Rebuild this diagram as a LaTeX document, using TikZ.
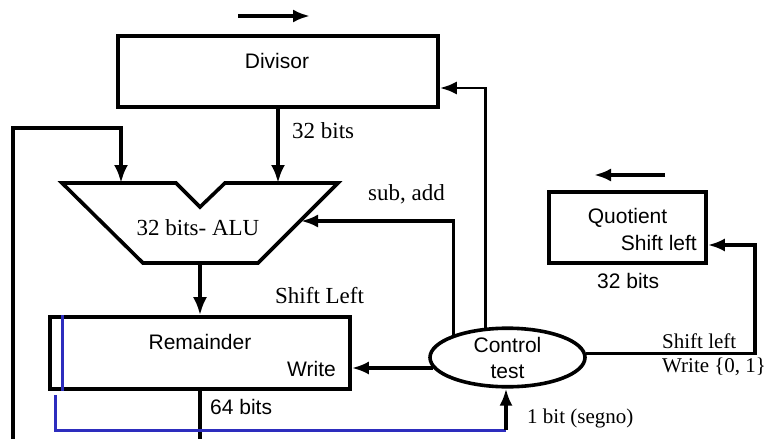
\documentclass[tikz,border=0pt]{standalone}
\usepackage{fontspec}
\setmainfont{Liberation Serif}
\newfontfamily\hvfont{Liberation Sans}
\usetikzlibrary{arrows.meta,shapes.geometric}
\definecolor{signblue}{RGB}{45,45,190}

\begin{document}
\begin{tikzpicture}[x=1pt, y=-1pt,
		reg/.style={draw, line width=3.6pt, inner sep=0pt},
		bus/.style={line width=4.6pt, -{Latex[length=18pt,width=14pt]}},
		sig/.style={line width=3.4pt, -{Latex[length=17pt,width=13pt]}},
		lbl/.style={anchor=base, inner sep=0pt, font=\fontsize{21}{25}\selectfont},
		albl/.style={anchor=base, inner sep=0pt, font=\fontsize{23}{27}\selectfont},
		hlbl/.style={anchor=base, inner sep=0pt, font=\hvfont\fontsize{21}{25}\selectfont}]
		\useasboundingbox (0,0) rectangle (766,439);
		\node[reg, minimum width=320pt, minimum height=71pt] (divisor) at (278, 71.5) {};
		\node[hlbl] (divisorlbl) at (277, 68) {Divisor};
		\node[reg, minimum width=300pt, minimum height=72pt] (rem) at (200, 353) {};
		\node[hlbl] (remlbl) at (200, 349) {Remainder};
		\node[hlbl, anchor=base east] (remwrite) at (336, 376) {Write};
		\node[reg, minimum width=157pt, minimum height=71pt] (quot) at (627.5, 227.5) {};
		\node[hlbl] (quotlbl) at (627.5, 223) {Quotient};
		\node[hlbl, anchor=base east] (quotshift) at (697, 250) {Shift left};
		\node[hlbl, anchor=base west] (quotbits) at (597, 288) {32 bits};
		\node[reg, ellipse, minimum width=155pt, minimum height=55pt, align=center,
			font=\hvfont\fontsize{21}{26}\selectfont] (ctrl) at (507.5, 357.5) {Control\\test};
		% ALU
		\draw[line width=3.6pt] (62,183) -- (176,183) -- (200,207) -- (225,183) -- (338,183)
			-- (258,263) -- (143,263) -- cycle;
		\coordinate (alua) at (121,183);
		\coordinate (alub) at (278,183);
		\coordinate (aluc) at (200,263);
		\coordinate (alud) at (301,221);
		\node[albl] (alulbl) at (198, 235) {32 bits- ALU};
		\draw[bus] (divisor.south) -- (alub);
		\coordinate (loopend) at (13,439);
		\draw[bus] (loopend) |- ([yshift=55pt]alua) -- (alua);
		\draw[bus] (aluc) -- (rem.north);
		\coordinate (remend) at (200,439);
		\draw[line width=4.6pt] (rem.south) -- (remend);
		\draw[sig] (ctrl.157) |- (alud);
		\draw[sig, line width=2.9pt] (ctrl.126) |- ([yshift=-16.5pt]divisor.east);
		\draw[sig] (ctrl.188) -- (ctrl.188 -| rem.east);
		\coordinate (qturn) at (755,245);
		\draw[sig] (ctrl.3) -| (qturn) -- (qturn -| quot.east);
		% sign bit
		\draw[signblue, line width=3pt] ([xshift=14pt]rem.north west) -- ([xshift=14pt]rem.south west);
		\coordinate (signstart) at (55,395);
		\coordinate (signend) at (506,430);
		\draw[signblue, line width=3pt] (signstart) |- (signend);
		\draw[sig] (signend) -- (signend |- ctrl.south);
		% shift directions
		\coordinate (dshifta) at (238,16);
		\coordinate (dshiftb) at (310,16);
		\draw[sig] (dshifta) -- (dshiftb);
		\coordinate (qshifta) at (665,175);
		\coordinate (qshiftb) at (594,175);
		\draw[sig] (qshifta) -- (qshiftb);
		\node[albl, anchor=base west] (divbits) at (292, 138) {32 bits};
		\node[albl, anchor=base west] (subadd) at (368, 200) {sub, add};
		\node[albl, anchor=base west] (shiftl) at (275, 303) {Shift Left};
		\node[hlbl, anchor=base west] (rembits) at (210, 414) {64 bits};
		\node[lbl, anchor=base west] (qshift) at (662, 348) {Shift left};
		\node[lbl, anchor=base west] (qwrite) at (662, 372) {Write \{0, 1\}};
		\node[lbl, anchor=base west] (signlbl) at (527, 423) {1 bit (segno)};
	\end{tikzpicture}
\end{document}
